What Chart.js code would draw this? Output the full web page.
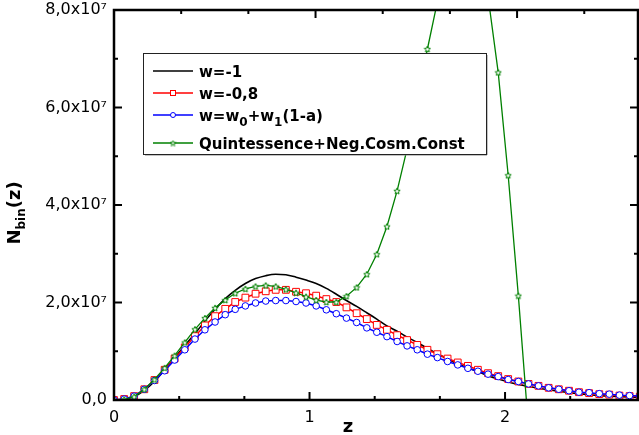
<!DOCTYPE html>
<html>
<head>
<meta charset="utf-8">
<script src="https://cdn.jsdelivr.net/npm/chart.js@4/dist/chart.umd.min.js"></script>
<style>
  html, body { margin: 0; padding: 0; background: #fff; }
  #wrap { width: 639px; height: 435px; }
</style>
</head>
<body>
<div id="wrap"><canvas id="c" width="639" height="435"></canvas></div>
<script>
// Redshift samples shared by all models
const zValues = [
  0.000, 0.052, 0.103, 0.155, 0.207, 0.259, 0.310, 0.362, 0.414, 0.465,
  0.517, 0.569, 0.620, 0.672, 0.724, 0.776, 0.827, 0.879, 0.931, 0.982,
  1.034, 1.086, 1.137, 1.189, 1.241, 1.293, 1.344, 1.396, 1.448, 1.499,
  1.551, 1.603, 1.654, 1.706, 1.758, 1.810, 1.861, 1.913, 1.965, 2.016,
  2.068, 2.120, 2.171, 2.223, 2.275, 2.327, 2.378, 2.430, 2.482, 2.533,
  2.585, 2.637, 2.689
];

// N_bin(z), in units of 10^7
const nbinLambda = [
  0.00, 0.01, 0.07, 0.20, 0.38, 0.62, 0.86, 1.12, 1.36, 1.62,
  1.86, 2.08, 2.25, 2.39, 2.49, 2.55, 2.58, 2.57, 2.52, 2.46,
  2.39, 2.29, 2.17, 2.04, 1.92, 1.79, 1.66, 1.52, 1.41, 1.29,
  1.18, 1.06, 0.95, 0.84, 0.74, 0.66, 0.58, 0.50, 0.43, 0.37,
  0.32, 0.28, 0.24, 0.21, 0.18, 0.15, 0.13, 0.11, 0.09, 0.08,
  0.07, 0.06, 0.05
];
const nbinW08 = [
  0.00, 0.02, 0.08, 0.22, 0.41, 0.62, 0.85, 1.08, 1.31, 1.53,
  1.72, 1.87, 2.01, 2.10, 2.18, 2.23, 2.26, 2.26, 2.22, 2.19,
  2.14, 2.07, 2.01, 1.90, 1.78, 1.66, 1.54, 1.44, 1.33, 1.23,
  1.13, 1.03, 0.94, 0.85, 0.77, 0.70, 0.62, 0.55, 0.49, 0.43,
  0.38, 0.33, 0.29, 0.25, 0.22, 0.19, 0.16, 0.14, 0.12, 0.11,
  0.09, 0.08, 0.07
];
const nbinCPL = [
  0.00, 0.02, 0.08, 0.22, 0.40, 0.60, 0.82, 1.03, 1.25, 1.44,
  1.60, 1.75, 1.86, 1.93, 1.99, 2.03, 2.04, 2.04, 2.02, 1.99,
  1.93, 1.85, 1.77, 1.68, 1.59, 1.48, 1.39, 1.30, 1.20, 1.11,
  1.03, 0.94, 0.87, 0.79, 0.72, 0.65, 0.59, 0.53, 0.48, 0.42,
  0.38, 0.33, 0.29, 0.25, 0.22, 0.19, 0.16, 0.15, 0.13, 0.12,
  0.10, 0.09, 0.08
];
const nbinQuintNeg = [
  0.00, 0.01, 0.07, 0.22, 0.42, 0.66, 0.91, 1.18, 1.45, 1.68,
  1.89, 2.05, 2.19, 2.28, 2.33, 2.35, 2.33, 2.27, 2.20, 2.12,
  2.05, 2.01, 2.01, 2.13, 2.31, 2.58, 2.99, 3.56, 4.29, 5.15,
  6.15, 7.20, 8.17, 8.90, 9.30, 9.30, 8.90, 8.28, 6.72, 4.61,
  2.14, -0.57
];

const yTickLabels = { 0: '0,0', 2: '2,0x10⁷', 4: '4,0x10⁷', 6: '6,0x10⁷', 8: '8,0x10⁷' };
const xTickLabels = { 0: '0', 1: '1', 2: '2' };

const GREEN = 'rgb(0,128,0)';
const RED = 'rgb(255,0,0)';
const BLUE = 'rgb(0,0,255)';

function pts(ys) { return ys.map((y, i) => ({ x: zValues[i], y: y })); }

// open five-pointed star marker
function starImage(size, color) {
  const c = document.createElement('canvas');
  c.width = size; c.height = size;
  const g = c.getContext('2d');
  const cx = size / 2, cy = size / 2 + 0.4;
  const ro = size / 2 - 0.7, ri = ro * 0.45;
  g.beginPath();
  for (let i = 0; i < 10; i++) {
    const r = i % 2 ? ri : ro;
    const a = -Math.PI / 2 + i * Math.PI / 5;
    const px = cx + r * Math.cos(a), py = cy + r * Math.sin(a);
    if (i === 0) g.moveTo(px, py); else g.lineTo(px, py);
  }
  g.closePath();
  g.fillStyle = '#fff';
  g.fill();
  g.lineWidth = 1;
  g.strokeStyle = color;
  g.stroke();
  return c;
}
const starPoint = starImage(8, GREEN);
const starLegend = starImage(7, GREEN);

const legendRows = [
  { kind: 'line', color: '#000', y: 71, parts: [['w=-1', 0]] },
  { kind: 'rect', color: RED, y: 93, parts: [['w=-0,8', 0]] },
  { kind: 'circle', color: BLUE, y: 115, parts: [['w=w', 0], ['0', 1], ['+w', 0], ['1', 1], ['(1-a)', 0]] },
  { kind: 'star', color: GREEN, y: 143, parts: [['Quintessence+Neg.Cosm.Const', 0]] }
];

function isMultiple(v, step) {
  const r = v / step;
  return Math.abs(r - Math.round(r)) < 1e-6;
}

// scales keep their exact box sizes, with no extra label overhang padding
function fixBox(w, h) {
  return s => {
    if (w !== null) s.width = w;
    if (h !== null) s.height = h;
    s.paddingLeft = 0; s.paddingRight = 0; s.paddingTop = 0; s.paddingBottom = 0;
  };
}

const framePlugin = {
  id: 'frame',
  afterDatasetsDraw(chart) {
    const ctx = chart.ctx;
    // legend box
    const bx = 143, by = 53, bw = 343, bh = 101;
    ctx.save();
    ctx.fillStyle = '#fff';
    ctx.fillRect(bx, by, bw, bh);
    ctx.strokeStyle = '#888';
    ctx.lineWidth = 1;
    ctx.beginPath();
    ctx.moveTo(bx + bw + 1, by + 2); ctx.lineTo(bx + bw + 1, by + bh + 1); ctx.lineTo(bx + 2, by + bh + 1);
    ctx.stroke();
    ctx.strokeStyle = '#222';
    ctx.strokeRect(bx + 0.5, by + 0.5, bw, bh);

    legendRows.forEach(row => {
      ctx.strokeStyle = row.color;
      ctx.lineWidth = 1.5;
      ctx.beginPath();
      ctx.moveTo(153, row.y); ctx.lineTo(193, row.y);
      ctx.stroke();
      ctx.lineWidth = 1;
      if (row.kind === 'rect') {
        ctx.fillStyle = '#fff';
        ctx.fillRect(170.5, row.y - 2.5, 5, 5);
        ctx.strokeRect(170.5, row.y - 2.5, 5, 5);
      } else if (row.kind === 'circle') {
        ctx.fillStyle = '#fff';
        ctx.beginPath(); ctx.arc(173, row.y, 2.5, 0, Math.PI * 2); ctx.fill(); ctx.stroke();
      } else if (row.kind === 'star') {
        ctx.drawImage(starLegend, 173 - 3.5, row.y - 3.5);
      }
      let x = 199;
      ctx.fillStyle = '#000';
      ctx.textBaseline = 'alphabetic';
      ctx.textAlign = 'left';
      row.parts.forEach(([t, sub]) => {
        ctx.font = sub ? 'bold 12px "DejaVu Sans"' : 'bold 15px "DejaVu Sans"';
        ctx.fillText(t, x, row.y + 6 + (sub ? 5 : 0));
        x += ctx.measureText(t).width;
      });
    });
    ctx.restore();
  },
  afterDraw(chart) {
    const ctx = chart.ctx;
    const a = chart.chartArea;
    const sx = chart.scales.x, sx2 = chart.scales.x2, sy = chart.scales.y;
    ctx.save();
    ctx.strokeStyle = '#000';
    ctx.lineCap = 'butt';
    ctx.lineWidth = 2;
    const MAJ = 8, MIN = 4;
    sx.ticks.forEach(t => {
      if (!isMultiple(t.value, 1 / 3)) return;
      const px = sx.getPixelForValue(t.value);
      const len = isMultiple(t.value, 1) ? MAJ : MIN;
      ctx.beginPath(); ctx.moveTo(px, a.bottom); ctx.lineTo(px, a.bottom - len); ctx.stroke();
    });
    sx2.ticks.forEach(t => {
      if (!isMultiple(t.value, 1 / 3)) return;
      const px = sx2.getPixelForValue(t.value);
      const len = isMultiple(t.value, 1) ? MAJ : MIN;
      ctx.beginPath(); ctx.moveTo(px, a.top); ctx.lineTo(px, a.top + len); ctx.stroke();
    });
    sy.ticks.forEach(t => {
      if (!isMultiple(t.value, 1)) return;
      const py = sy.getPixelForValue(t.value);
      const len = isMultiple(t.value, 2) ? MAJ : MIN;
      ctx.beginPath(); ctx.moveTo(a.left, py); ctx.lineTo(a.left + len, py); ctx.stroke();
      ctx.beginPath(); ctx.moveTo(a.right, py); ctx.lineTo(a.right - len, py); ctx.stroke();
    });
    // axis frame
    ctx.lineWidth = 2.5;
    ctx.strokeRect(a.left, a.top, a.right - a.left, a.bottom - a.top);

    // axis titles
    ctx.fillStyle = '#000';
    ctx.textAlign = 'center';
    ctx.textBaseline = 'alphabetic';
    ctx.font = 'bold 18px "DejaVu Sans"';
    ctx.fillText('z', 348, 432);

    ctx.translate(20, 213);
    ctx.rotate(-Math.PI / 2);
    const parts = [['N', 0], ['bin', 1], ['(z)', 0]];
    let w = 0;
    parts.forEach(([t, s]) => {
      ctx.font = s ? 'bold 12px "DejaVu Sans"' : 'bold 18px "DejaVu Sans"';
      w += ctx.measureText(t).width;
    });
    let x = -w / 2;
    ctx.textAlign = 'left';
    parts.forEach(([t, s]) => {
      ctx.font = s ? 'bold 12px "DejaVu Sans"' : 'bold 18px "DejaVu Sans"';
      ctx.fillText(t, x, s ? 5 : 0);
      x += ctx.measureText(t).width;
    });
    ctx.restore();
  }
};

const tickFont = { family: 'DejaVu Sans', size: 16 };

new Chart(document.getElementById('c'), {
  type: 'line',
  data: {
    datasets: [
      {
        label: 'Quintessence+Neg.Cosm.Const', data: pts(nbinQuintNeg), order: 0,
        borderColor: GREEN, borderWidth: 1.3, tension: 0,
        pointStyle: starPoint, pointRadius: 4, pointHoverRadius: 4
      },
      {
        label: 'w=w0+w1(1-a)', data: pts(nbinCPL), order: 1,
        borderColor: BLUE, borderWidth: 1.5, tension: 0,
        pointStyle: 'circle', pointRadius: 3.3, pointBorderWidth: 1,
        pointBackgroundColor: '#fff', pointBorderColor: BLUE
      },
      {
        label: 'w=-0,8', data: pts(nbinW08), order: 2,
        borderColor: RED, borderWidth: 1.5, tension: 0,
        pointStyle: 'rect', pointRadius: 4.8, pointBorderWidth: 1,
        pointBackgroundColor: '#fff', pointBorderColor: RED
      },
      {
        label: 'w=-1', data: pts(nbinLambda), order: 3,
        borderColor: '#000', borderWidth: 1.6, cubicInterpolationMode: 'monotone',
        pointRadius: 0
      }
    ]
  },
  options: {
    responsive: false,
    animation: false,
    devicePixelRatio: 1,
    layout: { padding: 0, autoPadding: false },
    plugins: { legend: { display: false }, tooltip: { enabled: false } },
    scales: {
      x: {
        type: 'linear', position: 'bottom', min: 0, max: 2.68,
        grid: { display: false, drawTicks: false }, border: { display: false },
        ticks: {
          stepSize: 1 / 3, autoSkip: false, maxRotation: 0, padding: 8, color: '#000', font: tickFont,
          callback: v => (isMultiple(v, 1) && xTickLabels[Math.round(v)] !== undefined) ? xTickLabels[Math.round(v)] : ''
        },
        afterFit: fixBox(null, 35)
      },
      x2: {
        type: 'linear', position: 'top', min: 0, max: 2.6,
        grid: { display: false, drawTicks: false }, border: { display: false },
        ticks: { display: false, stepSize: 1 / 3 },
        afterFit: fixBox(null, 10)
      },
      y: {
        type: 'linear', position: 'left', min: 0, max: 8,
        grid: { display: false, drawTicks: false }, border: { display: false },
        ticks: {
          stepSize: 1, autoSkip: false, padding: 7, color: '#000', font: tickFont,
          callback: v => (isMultiple(v, 2) && yTickLabels[Math.round(v)] !== undefined) ? yTickLabels[Math.round(v)] : ''
        },
        afterFit: fixBox(114, null)
      },
      y2: {
        type: 'linear', position: 'right', min: 0, max: 8,
        grid: { display: false, drawTicks: false }, border: { display: false },
        ticks: { display: false },
        afterFit: fixBox(1, null)
      }
    }
  },
  plugins: [framePlugin]
});
</script>
</body>
</html>
